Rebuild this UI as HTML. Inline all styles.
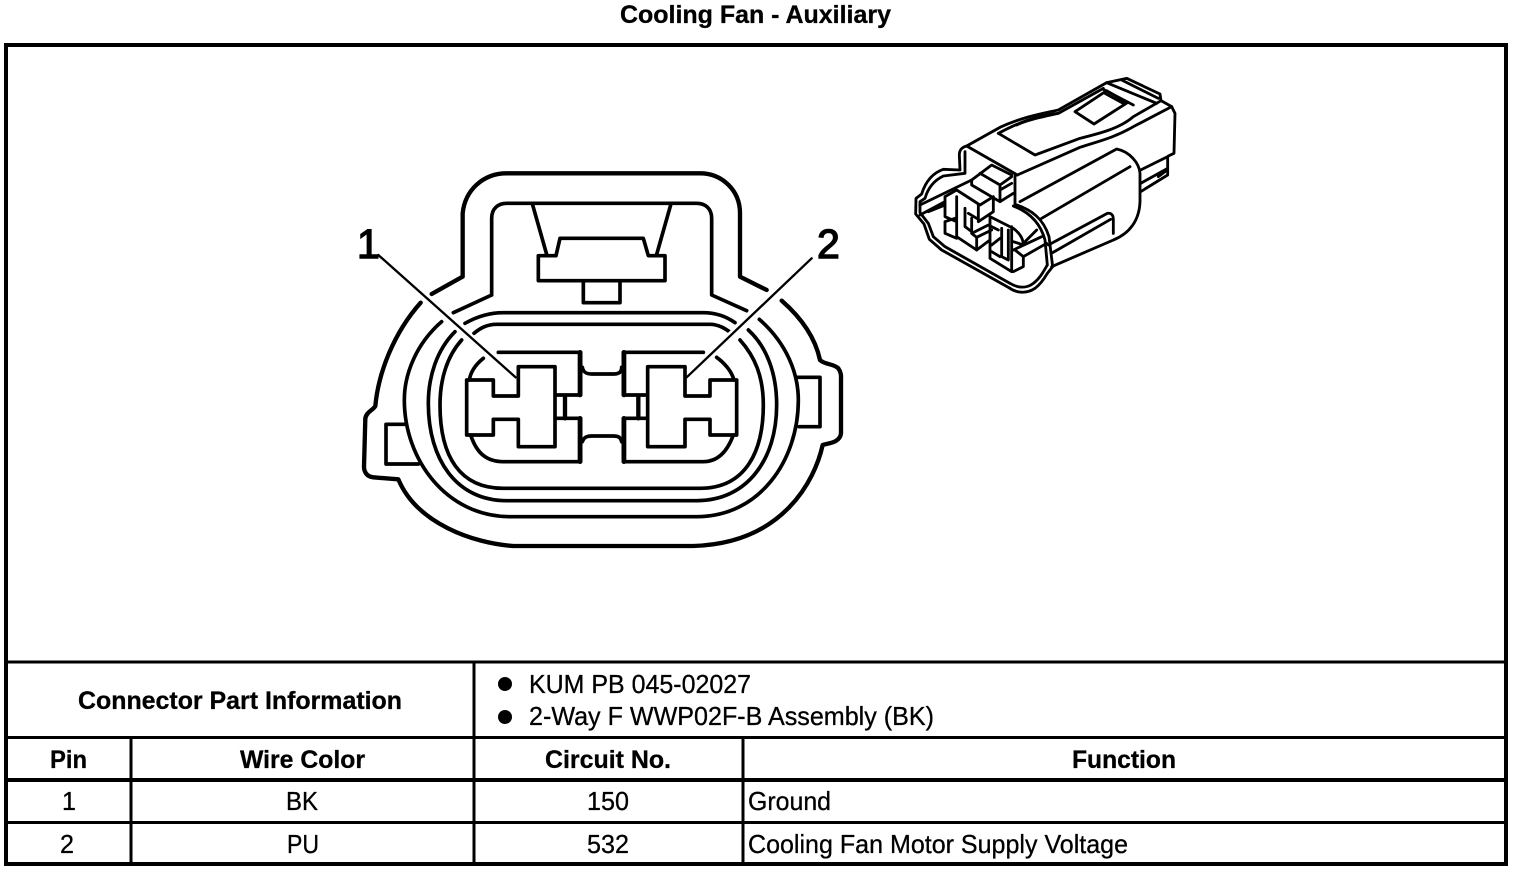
<!DOCTYPE html>
<html><head><meta charset="utf-8"><style>
html,body{margin:0;padding:0;background:#fff;width:1520px;height:872px;overflow:hidden}
svg{display:block}
text{font-family:"Liberation Sans",sans-serif;fill:#000;stroke:#000;stroke-width:.3px}
.b{font-weight:bold}
</style></head><body>
<svg xmlns="http://www.w3.org/2000/svg" width="1520" height="872" viewBox="0 0 1520 872">
<text class="b" x="620" y="23" font-size="25" textLength="271" lengthAdjust="spacingAndGlyphs">Cooling Fan - Auxiliary</text>
<rect x="6" y="45" width="1500" height="819" fill="none" stroke="#000" stroke-width="4"/>
<g stroke="#000" fill="none">
<path stroke-width="3" d="M6,662H1506M6,737.500H1506M6,822.500H1506M474,662V864M131,737V864M743,737V864"/>
<path stroke-width="4" d="M6,780H1506"/>
</g>
<circle cx="505" cy="684" r="7"/><circle cx="505" cy="717" r="7"/>
<text class="b" x="78" y="709" font-size="25" textLength="324" lengthAdjust="spacingAndGlyphs">Connector Part Information</text>
<text x="529" y="693" font-size="26" textLength="222" lengthAdjust="spacingAndGlyphs">KUM PB 045-02027</text>
<text x="529" y="725" font-size="26" textLength="405" lengthAdjust="spacingAndGlyphs">2-Way F WWP02F-B Assembly (BK)</text>
<text class="b" x="50" y="768" font-size="25" textLength="37" lengthAdjust="spacingAndGlyphs">Pin</text>
<text class="b" x="240" y="768" font-size="25" textLength="125" lengthAdjust="spacingAndGlyphs">Wire Color</text>
<text class="b" x="545" y="768" font-size="25" textLength="126" lengthAdjust="spacingAndGlyphs">Circuit No.</text>
<text class="b" x="1072" y="768" font-size="25" textLength="104" lengthAdjust="spacingAndGlyphs">Function</text>
<text x="62" y="810" font-size="26" textLength="14" lengthAdjust="spacingAndGlyphs">1</text>
<text x="286" y="810" font-size="26" textLength="32" lengthAdjust="spacingAndGlyphs">BK</text>
<text x="587" y="810" font-size="26" textLength="42" lengthAdjust="spacingAndGlyphs">150</text>
<text x="748" y="810" font-size="26" textLength="83" lengthAdjust="spacingAndGlyphs">Ground</text>
<text x="60" y="853" font-size="26" textLength="14" lengthAdjust="spacingAndGlyphs">2</text>
<text x="287" y="853" font-size="26" textLength="32" lengthAdjust="spacingAndGlyphs">PU</text>
<text x="587" y="853" font-size="26" textLength="42" lengthAdjust="spacingAndGlyphs">532</text>
<text x="748" y="853" font-size="26" textLength="380" lengthAdjust="spacingAndGlyphs">Cooling Fan Motor Supply Voltage</text>

<text x="357" y="258" font-size="41" style="stroke-width:1.4px">1</text>
<text x="817" y="258" font-size="41" style="stroke-width:1.4px">2</text>

<g transform="translate(350,160) scale(.33333)" fill="none" stroke="#000" stroke-linejoin="round" stroke-linecap="round">
<path stroke-width="13" d="M338,350 L338,160 C345,90 400,40 470,40 L1050,40 C1115,40 1170,90 1170,160 L1170,350 L1250,390 M1295,422 C1350,470 1395,530 1410,600 C1425,615 1450,610 1465,625 C1475,640 1473,650 1473,660 L1473,820 C1470,850 1430,850 1418,855 C1395,960 1300,1150 1030,1158 L490,1158 C370,1150 200,1090 145,958 L70,952 C50,950 42,935 42,920 L46,775 C50,755 70,750 76,738 C85,640 130,520 212,428 M245,402 L338,350"/>
<g stroke-width="11">
<path d="M425,405 L425,175 C425,145 445,130 470,130 L1040,130 C1065,130 1085,145 1085,175 L1085,405 L1190,452 M425,405 L310,458"/>
<path d="M565,287 L618,287 L630,235 L880,235 L895,287 L945,287 L945,362 L565,362 Z"/>
<path d="M700,365 L700,428 L810,428 L810,365"/>
<path d="M548,135 L590,283 M962,135 L920,283"/>
<path d="M275,485 C200,550 163,640 163,720 C163,900 290,1070 480,1070 L1040,1070 C1230,1070 1345,900 1345,720 C1345,640 1310,550 1228,478"/>
<path d="M345,490 C380,470 420,458 460,458 L1060,458 C1100,458 1130,470 1155,488 M315,515 C260,570 235,650 235,730 C235,900 320,1022 470,1022 L1040,1022 C1190,1022 1280,900 1280,735 C1280,640 1250,560 1195,510"/>
<path d="M372,520 C390,505 410,493 440,493 L1080,493 C1105,493 1125,505 1145,520 M335,540 C290,590 270,660 270,735 C270,890 330,985 460,985 L1050,985 C1190,985 1240,870 1240,735 C1240,650 1215,590 1170,540"/>
<path d="M445,577 L692,577 L692,705 L620,705 M400,595 C375,615 362,635 358,660 M362,825 C380,880 410,905 460,905 L692,905 L692,775 L620,775"/>
<path d="M1060,577 L820,577 L820,705 L890,705 M1100,592 C1125,610 1145,635 1152,660 M1150,825 C1130,880 1100,905 1060,905 L820,905 L820,775 L890,775"/>
<path stroke-width="14" d="M690,577 V705 M690,775 V905 M822,577 V705 M822,775 V905"/>
<path d="M697,622 C700,638 710,642 725,642 L790,642 C805,642 815,638 815,622 M697,845 C702,832 710,828 725,828 L790,828 C805,828 812,832 815,845"/>
<path d="M350,660 L430,660 L430,708 505,708 L505,620 L615,620 L615,860 L505,860 L505,778 L430,778 L430,825 L350,825 Z"/>
<path d="M1160,660 L1080,660 L1080,708 L1005,708 L1005,620 L893,620 L893,860 L1005,860 L1005,778 L1080,778 L1080,825 L1160,825 Z"/>
<path stroke-width="13" d="M645,708 L645,775 M865,708 L865,775"/>
<path d="M1342,652 L1410,652 L1410,800 L1347,800 M165,793 L108,793 L108,912 L205,912"/>
</g>
<path stroke="#fff" stroke-width="20" stroke-linecap="butt" d="M130,325 L470,627 M1345,335 L1035,625"/>
<path stroke-width="7" d="M85,285 L497,652 M1385,295 L1010,652"/>
</g>

<g transform="translate(900,70) scale(.33333)" fill="none" stroke="#000" stroke-width="8.500" stroke-linejoin="round" stroke-linecap="round">
<path d="M352,315 L200,228 C185,232 178,240 178,255 L180,300 L130,298 C95,310 75,340 65,372 L48,385 L47,432 L72,462 L88,508 L125,540 L325,652 C350,670 380,672 405,655 C425,640 435,622 442,610 L458,590 L447,500 C430,445 395,420 345,403 L345,315"/>
<path d="M195,245 L195,310 L130,318 C105,330 85,350 75,385 L60,395 L60,428 L85,460 L100,500 L135,530 L330,640 C355,655 380,655 400,640 C420,625 430,605 442,585 L435,510 C420,455 385,425 340,408"/>
<path d="M200,228 L300,172 C370,140 430,130 475,120 L620,38 L680,25 L780,72 L783,92 L815,110 L825,130 L822,250 L805,258"/>
<path d="M352,315 L540,232 C590,215 640,205 700,170 L815,110"/>
<path d="M295,190 L405,255 L540,205 C600,190 660,175 700,140 L783,92"/>
<path d="M295,190 C360,155 420,135 475,130 L610,55 M475,130 C430,140 380,150 350,165"/>
<path d="M620,38 L770,100 M665,30 L775,85 M610,58 L700,105"/>
<path d="M525,125 L620,62 L682,98 L582,162 Z M615,70 L670,100"/>
<path d="M360,395 L650,237 C690,245 718,280 720,310 L720,395 C718,450 690,490 640,510 L455,590"/>
<path d="M425,445 L690,290"/>
<path d="M445,525 L622,430 C638,428 640,440 640,450 L640,490 M458,548 L632,448"/>
<path d="M722,300 L803,260 L803,315 L722,365 M722,340 L803,295 M775,320 L795,305"/>
<path d="M60,405 L215,330 M60,435 L135,395 M85,425 L135,405"/>
<path d="M215,330 L275,285 L335,315 M215,330 L215,345 L300,395 M240,310 L300,345 L335,320 M300,345 L300,395 L340,370 M300,360 L335,340"/>
<path d="M135,380 L170,360 L240,405 L280,380 L280,425 L235,455 L235,405 M135,380 L135,440 L170,455 M170,380 L170,500 L230,540 L270,510 M195,415 L195,470 L215,485 L215,445 M205,430 L230,445 M135,455 L135,490 L170,505 M135,455 L165,445"/>
<path d="M215,490 L265,465 L295,480 M230,502 L230,540 M215,490 L230,502 L275,480"/>
<path d="M270,440 L270,565 L335,605 M270,440 L340,475 M335,470 L335,605 M305,475 L305,560 L325,570 L325,480 M275,525 L300,505 M275,545 L300,560"/>
<path d="M340,475 C360,490 368,505 370,520 L410,480 M340,515 L370,525 M340,540 L425,500 M345,540 L370,560 L370,590 L340,605 M370,560 L440,520"/>
</g>
</svg>
</body></html>
